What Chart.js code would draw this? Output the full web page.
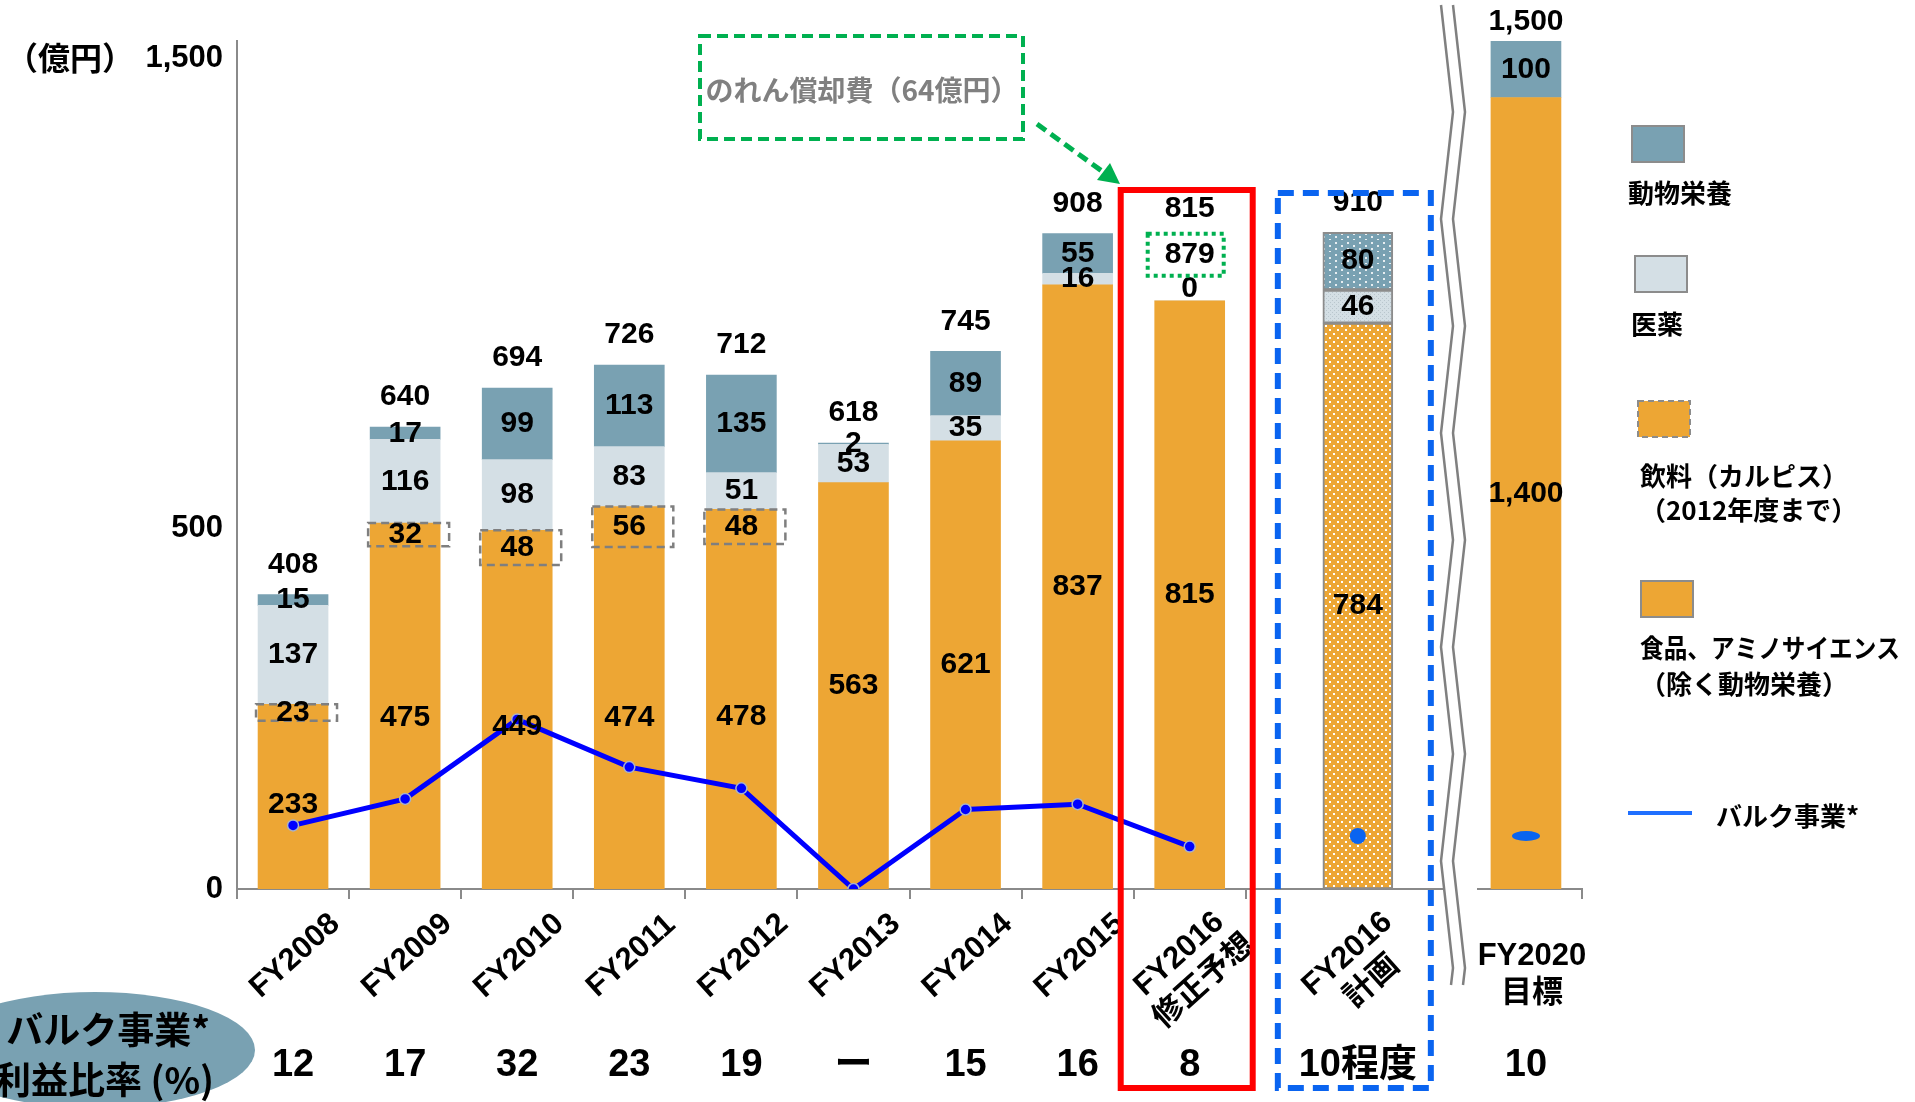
<!DOCTYPE html>
<html>
<head>
<meta charset="utf-8">
<script src="https://cdn.jsdelivr.net/npm/chart.js@4.4.1/dist/chart.umd.min.js"></script>
<style>
  html, body { margin: 0; padding: 0; background: #fff; }
  #wrap { width: 1915px; height: 1102px; position: relative; }
</style>
</head>
<body>
<div id="wrap"><canvas id="chart"></canvas></div>
<script>
// data (億円)
const categories = ["FY2008", "FY2009", "FY2010", "FY2011", "FY2012", "FY2013", "FY2014", "FY2015", "FY2016 修正予想", "FY2016 計画", "FY2020 目標"];
const axisLabels = [["FY2008"], ["FY2009"], ["FY2010"], ["FY2011"], ["FY2012"], ["FY2013"], ["FY2014"], ["FY2015"], ["FY2016", "修正予想"], ["FY2016", "計画"], ["FY2020", "目標"]];
const foodAmino = [233, 475, 449, 474, 478, 563, 621, 837, 815, 784, 1400];
const beverage = [23, 32, 48, 56, 48, null, null, null, null, null, null];
const pharma = [137, 116, 98, 83, 51, 53, 35, 16, 0, 46, null];
const animal = [15, 17, 99, 113, 135, 2, 89, 55, null, 80, 100];
const bulkRatio = [12, 17, 32, 23, 19, 0, 15, 16, 8, 10, 10];
const bulkRatioLabels = ["12", "17", "32", "23", "19", "ー", "15", "16", "8", "10程度", "10"];
const yTicks = [0, 500, 1500];
const goodwill = 64; // のれん償却費

const reviseIdx = 8, planIdx = 9, targetIdx = 10;

// slide spacing: bars sit on every other slot, plan and target pushed right of the break
const slotOf = [1, 3, 5, 7, 9, 11, 13, 15, 17, 20, 23];
const slotCount = 25;
const slotLabels = new Array(slotCount).fill("");
categories.forEach((c, i) => { slotLabels[slotOf[i]] = c; });

const spread = (vals, keep) => {
    const out = new Array(slotCount).fill(null);
    vals.forEach((v, i) => { if (keep(i)) out[slotOf[i]] = v; });
    return out;
};
const onMain = i => i !== targetIdx;
const onTarget = i => i === targetIdx;

const ORANGE = "#EDA634";
const PHARMA = "#D4DFE5";
const ANIMAL = "#79A1B2";
const NUM = '"Liberation Sans", "Noto Sans CJK JP", sans-serif';
const JP = '"Noto Sans CJK JP", sans-serif';

const makePattern = (bg, dot, size, pts, d) => {
    const c = document.createElement("canvas");
    c.width = size; c.height = size;
    const g = c.getContext("2d");
    g.fillStyle = bg;
    g.fillRect(0, 0, size, size);
    g.fillStyle = dot;
    pts.forEach(([x, y]) => g.fillRect(x, y, d, d));
    return g.createPattern(c, "repeat");
};
const orangeDots = makePattern(ORANGE, "#ffffff", 8, [[1, 1], [5, 5]], 2);
const pharmaDots = makePattern(PHARMA, "#b9c6cd", 4, [[0, 0], [2, 2]], 1);
const animalDots = makePattern(ANIMAL, "#e8eef1", 12, [[3, 2], [3, 8], [9, 5], [9, 11]], 2);

const ellipseDot = (() => {
    const c = document.createElement("canvas");
    c.width = 30; c.height = 12;
    const g = c.getContext("2d");
    g.fillStyle = "#0A64F0";
    g.beginPath();
    g.ellipse(15, 6, 14, 5, 0, 0, Math.PI * 2);
    g.fill();
    return c;
})();

const planSlot = slotOf[planIdx];
const barStyle = (color, pattern) => ({
    type: "bar",
    backgroundColor: c => c.dataIndex === planSlot ? pattern : color,
    borderColor: "#8c8c8c",
    borderWidth: c => c.dataIndex === planSlot ? 2 : 0,
    borderSkipped: false,
    barThickness: 70,
    order: 1,
});

const segmentLabels = {
    id: "segmentLabels",
    afterDatasetsDraw(chart) {
        const { ctx, scales } = chart;
        ctx.save();
        ctx.textAlign = "center";
        ctx.textBaseline = "middle";
        ctx.fillStyle = "#000";

        // 飲料 segments carry a dashed outline
        const bevMeta = chart.getDatasetMeta(3);
        ctx.strokeStyle = "#7f7f7f";
        ctx.lineWidth = 2.5;
        ctx.setLineDash([8, 5]);
        bevMeta.data.forEach((bar, i) => {
            if (chart.data.datasets[3].data[i] == null) return;
            ctx.strokeRect(bar.x - 37, bar.y, 81, bar.base - bar.y);
        });
        ctx.setLineDash([]);

        ctx.font = "bold 30px " + NUM;
        chart.data.datasets.forEach((ds, di) => {
            const meta = chart.getDatasetMeta(di);
            if (meta.type !== "bar") return;
            meta.data.forEach((bar, i) => {
                const v = ds.data[i];
                if (v == null) return;
                const y = v === 0 ? bar.y - 12 : (bar.y + bar.base) / 2;
                ctx.fillText(v.toLocaleString("en-US"), bar.x, y);
            });
        });

        // totals
        categories.forEach((c, j) => {
            const total = [foodAmino, beverage, pharma, animal].reduce((s, a) => s + (a[j] || 0), 0);
            const ys = j === targetIdx ? scales.y2 : scales.y;
            const top = ys.getPixelForValue(total);
            const x = scales.x.getPixelForValue(slotOf[j]);
            if (j === reviseIdx) {
                ctx.fillText(String(total + goodwill), x, top - 46);
                ctx.strokeStyle = "#00B050";
                ctx.lineWidth = 4;
                ctx.setLineDash([4, 4]);
                ctx.strokeRect(x - 42, top - 67, 76, 42);
                ctx.setLineDash([]);
                ctx.fillText(total.toLocaleString("en-US"), x, top - 92);
            } else {
                ctx.fillText(total.toLocaleString("en-US"), x, Math.max(top - 30, 22));
            }
        });
        ctx.restore();
    },
};

const decorations = {
    id: "decorations",
    afterDraw(chart) {
        const { ctx, scales, chartArea } = chart;
        const xs = scales.x;
        const cx = i => xs.getPixelForValue(slotOf[i]);
        ctx.save();

        // unit and the tick that lives above the axis break
        ctx.fillStyle = "#000";
        ctx.font = "bold 32px " + JP;
        ctx.textAlign = "left";
        ctx.textBaseline = "middle";
        ctx.fillText("（億円）", 6, 58);
        ctx.font = "bold 31px " + NUM;
        ctx.textAlign = "right";
        ctx.textBaseline = "top";
        yTicks.filter(v => v > scales.y.max).forEach(v => {
            ctx.fillText(v.toLocaleString("en-US"), chartArea.left - 14, scales.y2.getPixelForValue(v) + 2);
        });

        // category labels
        ctx.font = "bold 31px " + NUM;
        ctx.textAlign = "center";
        ctx.textBaseline = "middle";
        axisLabels.forEach((lines, i) => {
            const x = cx(i);
            ctx.save();
            if (i === targetIdx) {
                ctx.translate(x + 6, 975);
            } else {
                ctx.translate(x + 2, lines.length > 1 ? 968 : 956);
                ctx.rotate(-42 * Math.PI / 180);
            }
            lines.forEach((t, k) => ctx.fillText(t, 0, (k - (lines.length - 1) / 2) * 37));
            ctx.restore();
        });

        // ratio row
        ctx.font = "bold 38px " + NUM;
        bulkRatioLabels.forEach((t, i) => ctx.fillText(t, cx(i), 1066));

        ctx.fillStyle = ANIMAL;
        ctx.beginPath();
        ctx.ellipse(95, 1050, 160, 58, 0, 0, Math.PI * 2);
        ctx.fill();
        ctx.fillStyle = "#000";
        ctx.font = "bold 37px " + JP;
        ctx.textAlign = "right";
        ctx.fillText("バルク事業*", 210, 1030);
        ctx.fillText("利益比率 (%)", 214, 1080);

        // frames round FY2016
        const rx = cx(reviseIdx);
        ctx.strokeStyle = "#FF0000";
        ctx.lineWidth = 6;
        ctx.strokeRect(rx - 69, 190, 132, 898);
        const px = cx(planIdx);
        ctx.strokeStyle = "#0A64F0";
        ctx.setLineDash([16, 9]);
        ctx.strokeRect(px - 80, 193, 153, 895);
        ctx.setLineDash([]);

        // goodwill callout
        ctx.strokeStyle = "#00B050";
        ctx.lineWidth = 4;
        ctx.setLineDash([11, 6]);
        ctx.strokeRect(700, 36, 323, 103);
        ctx.fillStyle = "#808080";
        ctx.font = "bold 28px " + JP;
        ctx.textAlign = "center";
        ctx.fillText("のれん償却費（" + goodwill + "億円）", 862, 90);
        ctx.lineWidth = 5;
        ctx.beginPath();
        ctx.moveTo(1037, 124);
        ctx.lineTo(1106, 174);
        ctx.stroke();
        ctx.setLineDash([]);
        ctx.fillStyle = "#00B050";
        ctx.beginPath();
        ctx.moveTo(1120, 184);
        ctx.lineTo(1097, 180);
        ctx.lineTo(1110, 163);
        ctx.closePath();
        ctx.fill();

        // axis break
        ctx.fillStyle = "#fff";
        ctx.fillRect(1443, chartArea.bottom - 4, 34, 8);
        ctx.strokeStyle = "#808080";
        ctx.lineWidth = 2.5;
        [0, 12].forEach(off => {
            ctx.beginPath();
            for (let k = 0; k <= 9; k++) {
                const x = 1441 + off + (k % 2) * 12;
                const y = 5 + k * 107;
                if (k === 0) ctx.moveTo(x, y); else ctx.lineTo(x, y);
            }
            ctx.lineTo(1441 + off + 12 - 2, 985);
            ctx.stroke();
        });

        // legend
        const box = (x, y, fill, dashed) => {
            ctx.fillStyle = fill;
            ctx.fillRect(x, y, 52, 36);
            ctx.strokeStyle = "#8c8c8c";
            ctx.lineWidth = 2;
            if (dashed) ctx.setLineDash([6, 4]);
            ctx.strokeRect(x, y, 52, 36);
            ctx.setLineDash([]);
        };
        box(1632, 126, ANIMAL, false);
        box(1635, 256, PHARMA, false);
        box(1638, 401, ORANGE, true);
        box(1641, 581, ORANGE, false);
        ctx.fillStyle = "#000";
        ctx.font = "bold 26px " + JP;
        ctx.textAlign = "left";
        ctx.fillText("動物栄養", 1628, 193);
        ctx.fillText("医薬", 1631, 324);
        ctx.fillText("飲料（カルピス）", 1640, 476, 270);
        ctx.fillText("（2012年度まで）", 1640, 510, 270);
        ctx.fillText("食品、アミノサイエンス", 1640, 648, 260);
        ctx.fillText("（除く動物栄養）", 1640, 684, 260);
        ctx.strokeStyle = "#1F6FFF";
        ctx.lineWidth = 4;
        ctx.beginPath();
        ctx.moveTo(1628, 813);
        ctx.lineTo(1692, 813);
        ctx.stroke();
        ctx.fillText("バルク事業*", 1716, 816);

        ctx.restore();
    },
};

new Chart(document.getElementById("chart"), {
    type: "bar",
    plugins: [segmentLabels, decorations],
    data: {
        labels: slotLabels,
        datasets: [
            {
                label: "バルク事業*", type: "line", yAxisID: "yr", order: 0,
                data: spread(bulkRatio, i => i <= reviseIdx), spanGaps: true,
                borderColor: "#0000FF", borderWidth: 5,
                pointRadius: 5.5, pointBackgroundColor: "#0000FF",
                pointBorderColor: "#a9b3c8", pointBorderWidth: 1.5,
            },
            {
                label: "バルク事業* 計画・目標", type: "line", yAxisID: "yr", order: 0,
                data: spread(bulkRatio, i => i > reviseIdx), showLine: false,
                pointRadius: 8, pointBorderWidth: 0, pointBackgroundColor: "#0A64F0",
                pointStyle: c => c.dataIndex === slotOf[targetIdx] ? ellipseDot : "circle",
            },
            { label: "食品、アミノサイエンス", ...barStyle(ORANGE, orangeDots), yAxisID: "y", data: spread(foodAmino, onMain) },
            { label: "飲料（カルピス）", ...barStyle(ORANGE, orangeDots), yAxisID: "y", data: spread(beverage, onMain) },
            { label: "医薬", ...barStyle(PHARMA, pharmaDots), yAxisID: "y", data: spread(pharma, onMain) },
            { label: "動物栄養", ...barStyle(ANIMAL, animalDots), yAxisID: "y", data: spread(animal, onMain) },
            { label: "食品、アミノサイエンス FY2020", ...barStyle(ORANGE, orangeDots), yAxisID: "y2", data: spread(foodAmino, onTarget) },
            { label: "動物栄養 FY2020", ...barStyle(ANIMAL, animalDots), yAxisID: "y2", data: spread(animal, onTarget) },
        ],
    },
    options: {
        responsive: true,
        maintainAspectRatio: false,
        animation: false,
        layout: { padding: { top: 41, right: 333, left: 0, bottom: 0 } },
        plugins: { legend: { display: false }, tooltip: { enabled: false } },
        scales: {
            x: {
                type: "category",
                offset: false,
                stacked: true,
                ticks: { display: false },
                grid: {
                    offset: false,
                    drawOnChartArea: false,
                    drawTicks: true,
                    tickLength: 10,
                    lineWidth: 2,
                    color: c => (c.index % 2 === 0 && (c.index <= 18 || c.index === slotCount - 1)) ? "#8a8a8a" : "rgba(0,0,0,0)",
                },
                border: { display: true, color: "#8a8a8a", width: 2 },
                afterFit: s => { s.height = 213; },
            },
            y: {
                stacked: true,
                min: 0,
                max: 1175,
                afterBuildTicks: s => { s.ticks = yTicks.filter(v => v <= s.max).map(v => ({ value: v })); },
                ticks: {
                    color: "#000",
                    padding: 14,
                    font: { size: 31, weight: "bold", family: NUM },
                    callback: v => v.toLocaleString("en-US"),
                },
                grid: { display: false, drawTicks: false },
                border: { display: true, color: "#8a8a8a", width: 2 },
                afterFit: s => { s.width = 237; },
            },
            y2: { display: false, stacked: true, min: 0, max: 1500 },
            yr: { display: false, min: 0, max: 160 },
        },
    },
});
</script>
</body>
</html>
